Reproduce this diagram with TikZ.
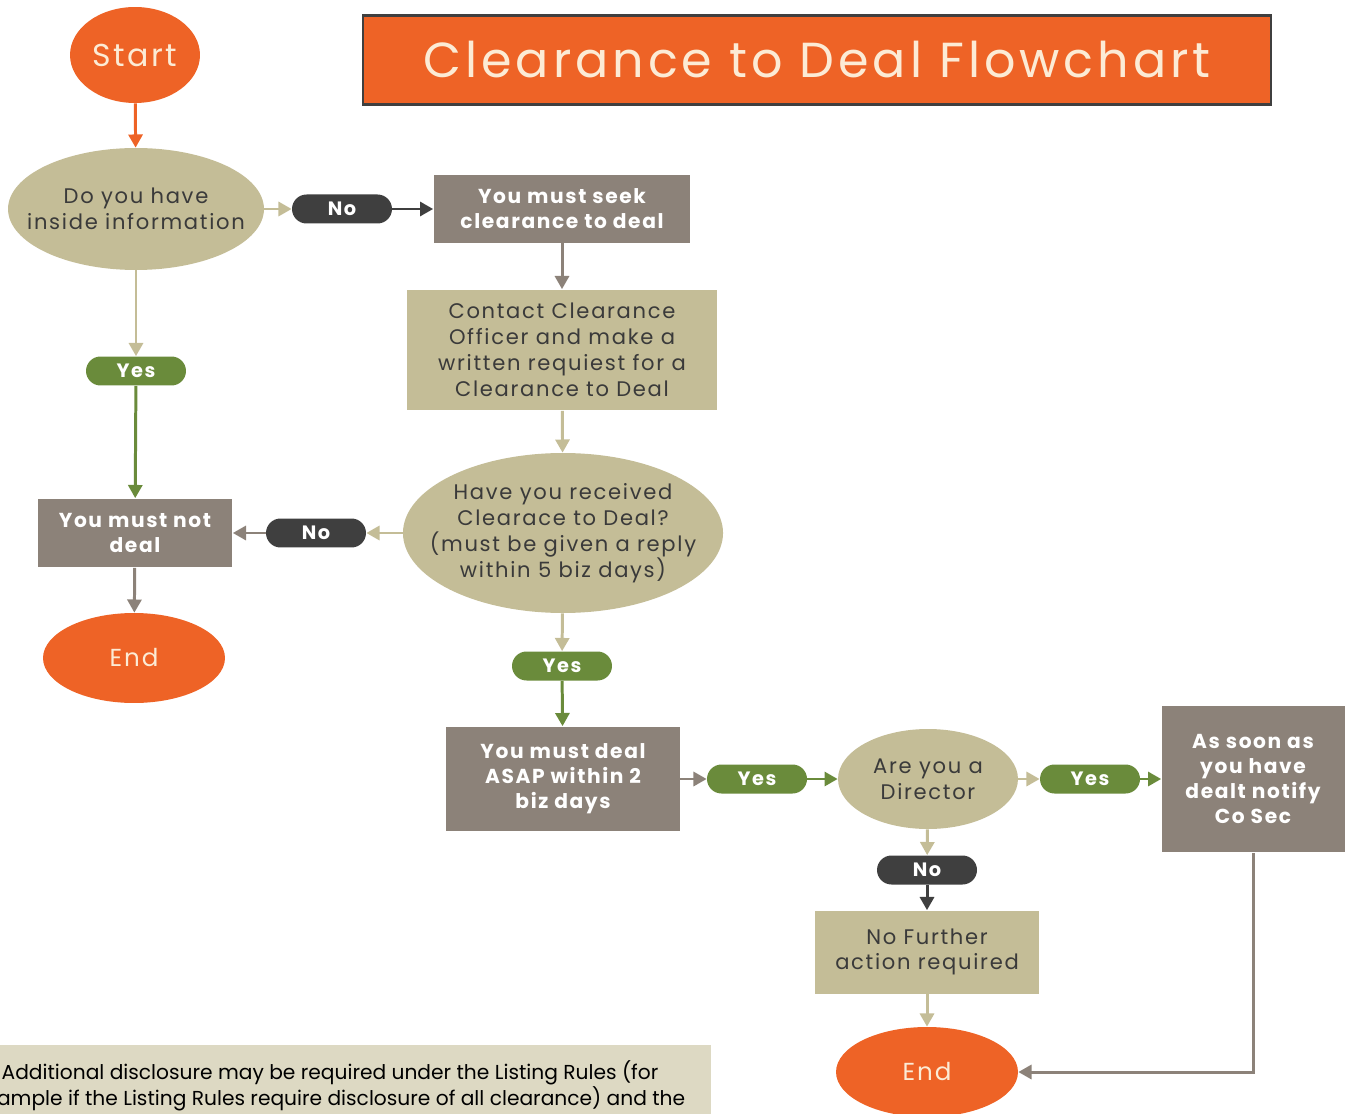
\documentclass[tikz,border=0pt]{standalone}
\usepackage{fontspec}
\setmainfont{Poppins}[LetterSpace=8]
\newfontfamily\notefont{Poppins}
\usepackage{xcolor}
\usepackage{tikz}
\usetikzlibrary{arrows.meta,positioning,shapes.geometric}
\definecolor{flame}{HTML}{EE6326}
\definecolor{khaki}{HTML}{C4BD97}
\definecolor{sand}{HTML}{DDD9C3}
\definecolor{taupe}{HTML}{8C8279}
\definecolor{coal}{HTML}{3F3F3F}
\definecolor{moss}{HTML}{6A8B3B}
\definecolor{cream}{HTML}{FCEBD5}
\definecolor{ink}{HTML}{3A3A3A}
\tikzset{
  term/.style={ellipse, fill=flame, text=cream, inner sep=0pt,
               font=\fontsize{14}{16}\selectfont},
  decision/.style={ellipse, fill=khaki, text=ink, inner sep=-4mm, align=center,
                   font=\fontsize{12}{14.7}\selectfont},
  actbox/.style={rectangle, fill=taupe, text=white, inner sep=0pt, align=center,
                 font=\bfseries\fontsize{11.5}{14.2}\selectfont},
  infobox/.style={rectangle, fill=khaki, text=ink, inner sep=0pt, align=center,
                  font=\fontsize{12}{14.7}\selectfont},
  pill/.style={rectangle, rounded corners=0.29cm, minimum width=2cm, minimum height=0.58cm,
               inner sep=0pt, text=white, font=\bfseries\fontsize{11}{12}\selectfont},
  yespill/.style={pill, fill=moss},
  nopill/.style={pill, fill=coal},
  link/.style={-{Triangle[length=7.5pt,width=8pt]}, line width=1.7pt},
  tanlink/.style={link, draw=khaki},
  taupelink/.style={link, draw=taupe},
  darklink/.style={link, draw=coal},
  greenlink/.style={link, draw=moss},
  orangelink/.style={link, draw=flame},
}
\begin{document}
\begin{tikzpicture}[x=0.02cm, y=-0.02cm]
\useasboundingbox (0,0) rectangle (1348,1114);
\clip (0,0) rectangle (1348,1114);

% heading and start
\node[term, minimum width=2.6cm, minimum height=1.92cm, font=\fontsize{18}{20}\selectfont]
  (start) at (135,55) {Start};
\node[rectangle, fill=flame, draw=coal, line width=1.5pt, text=cream,
      minimum width=18.16cm, minimum height=1.78cm, font=\fontsize{28}{32}\selectfont]
  (title) at (817,60) {Clearance to Deal Flowchart};

% first question
\node[decision, minimum width=5.12cm, minimum height=2.44cm] (inside) at (136,209)
  {Do you have\\inside information};
\node[nopill] (noA) at (342,209) {No};
\node[actbox, minimum width=5.14cm, minimum height=1.36cm] (seek) at (562,209)
  {You must seek\\clearance to deal};
\node[infobox, minimum width=6.2cm, minimum height=2.42cm] (contact) at (562,350)
  {Contact Clearance\\Officer and make a\\written requiest for a\\Clearance to Deal};
\node[yespill] (yesA) at (136,371) {Yes};

% second question
\node[decision, minimum width=6.32cm, minimum height=3.2cm] (received) at (563,533)
  {Have you received\\Clearace to Deal?\\(must be given a reply\\within 5 biz days)};
\node[nopill] (noB) at (316,533) {No};
\node[actbox, minimum width=3.9cm, minimum height=1.38cm] (notdeal) at (135,533)
  {You must not\\deal};
\node[term, minimum width=3.64cm, minimum height=1.8cm] (endA) at (134,658) {End};
\node[yespill] (yesB) at (562,666) {Yes};
\node[actbox, minimum width=4.68cm, minimum height=2.1cm] (dealnow) at (563,779)
  {You must deal\\ASAP within 2\\biz days};

% director question
\node[yespill] (yesC) at (757,779) {Yes};
\node[decision, minimum width=3.6cm, minimum height=2cm] (director) at (928,779)
  {Are you a\\Director};
\node[yespill] (yesD) at (1090,779) {Yes};
\node[actbox, minimum width=3.66cm, minimum height=2.94cm] (cosec) at (1253,779)
  {As soon as\\you have\\dealt notify\\Co Sec};
\node[nopill] (noC) at (927,870) {No};
\node[infobox, minimum width=4.5cm, minimum height=1.66cm] (nofurther) at (927,952)
  {No Further\\action required};
\node[term, minimum width=3.64cm, minimum height=1.8cm] (endB) at (927,1072) {End};

% note
\node[rectangle, fill=sand, anchor=north west, minimum width=15.24cm,
      minimum height=1.9cm, inner sep=0pt] (note) at (-51,1045) {};
\node[text=black, anchor=north, align=center, inner sep=0pt,
      font=\notefont\fontsize{11.5}{14.7}\selectfont]
  (notetext) at (330,1060)
  {Additional disclosure may be required under the Listing Rules (for\\
   example if the Listing Rules require disclosure of all clearance) and the};

% connectors
\draw[orangelink] (start) -- (inside);
\draw[tanlink] (inside) -- (noA);
\draw[darklink] (noA) -- (seek);
\draw[taupelink] (seek) -- (contact);
\draw[tanlink] (contact) -- (received);
\draw[tanlink] (inside) -- (yesA);
\draw[greenlink] (yesA) -- (notdeal);
\draw[tanlink] (received) -- (noB);
\draw[taupelink] (noB) -- (notdeal);
\draw[taupelink] (notdeal) -- (endA);
\draw[tanlink] (received) -- (yesB);
\draw[greenlink] (yesB) -- (dealnow);
\draw[taupelink] (dealnow) -- (yesC);
\draw[greenlink] (yesC) -- (director);
\draw[tanlink] (director) -- (yesD);
\draw[greenlink] (yesD) -- (cosec);
\draw[tanlink] (director) -- (noC);
\draw[darklink] (noC) -- (nofurther);
\draw[tanlink] (nofurther) -- (endB);
\draw[taupelink] (cosec) |- (endB);
\end{tikzpicture}
\end{document}
